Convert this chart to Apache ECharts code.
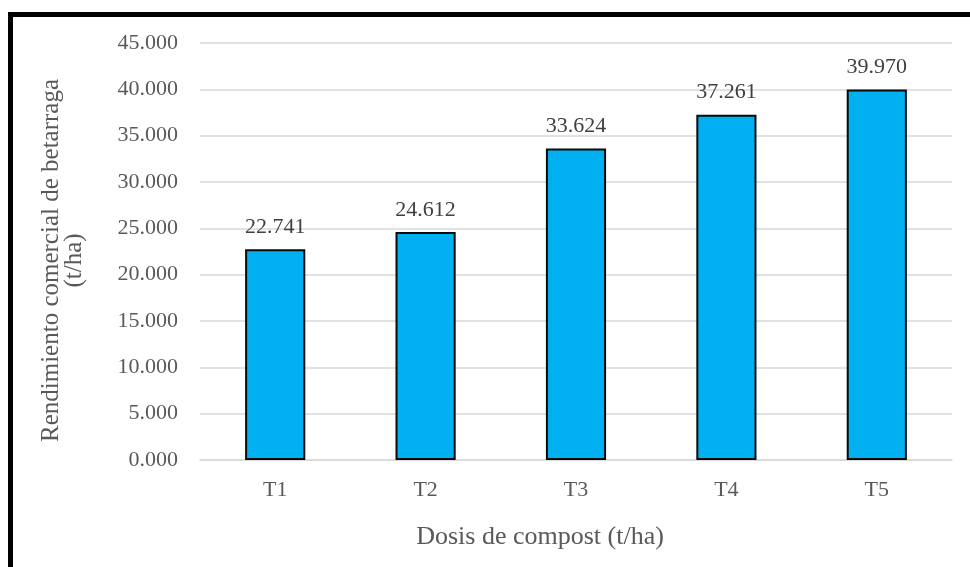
<!DOCTYPE html>
<html>
<head>
<meta charset="utf-8">
<script src="https://cdn.jsdelivr.net/npm/echarts@6/dist/echarts.min.js"></script>
<style>
  html, body { margin: 0; padding: 0; background: #fff; }
  #wrap { position: relative; width: 970px; height: 567px; overflow: hidden; background: #fff; }
  #frame { position: absolute; left: 8px; top: 12px; width: 980px; height: 600px;
           border-left: 5px solid #000; border-top: 5px solid #000; box-sizing: border-box; }
  #chart { position: absolute; left: 0; top: 0; width: 970px; height: 567px; }
</style>
</head>
<body>
<div id="wrap">
  <div id="frame"></div>
  <div id="chart"></div>
</div>
<script>
// Commercial beet yield by compost dose
const categories = ['T1', 'T2', 'T3', 'T4', 'T5'];
const yieldValues = [22.741, 24.612, 33.624, 37.261, 39.970];
const yAxisTitle = 'Rendimiento comercial de betarraga\n(t/ha)';
const xAxisTitle = 'Dosis de compost (t/ha)';

const serif = '"Liberation Serif", "Times New Roman", serif';
const fmt = v => v.toFixed(3);

const chart = echarts.init(document.getElementById('chart'), null, { renderer: 'canvas' });
chart.setOption({
  backgroundColor: 'transparent',
  animation: false,
  grid: { left: 200, right: 18, top: 43, bottom: 107 },
  xAxis: {
    type: 'category',
    data: categories,
    name: xAxisTitle,
    nameLocation: 'middle',
    nameGap: 64,
    nameTextStyle: { fontFamily: serif, fontSize: 26, color: '#595959', padding: [0, 72, 0, 0] },
    axisLine: { show: true, lineStyle: { color: '#d9d9d9', width: 1.5 } },
    axisTick: { show: false },
    axisLabel: { fontFamily: serif, fontSize: 22, color: '#595959', margin: 19 }
  },
  yAxis: {
    type: 'value',
    min: 0,
    max: 45,
    interval: 5,
    name: yAxisTitle,
    nameLocation: 'middle',
    nameGap: 114,
    nameTextStyle: { fontFamily: serif, fontSize: 25, color: '#595959', lineHeight: 23, padding: [0, 18, 0, 0] },
    axisLine: { show: false },
    axisTick: { show: false },
    axisLabel: { fontFamily: serif, fontSize: 22, color: '#595959', margin: 22, formatter: fmt },
    splitLine: { lineStyle: { color: '#d9d9d9', width: 1.5 } }
  },
  series: [{
    type: 'bar',
    data: yieldValues,
    barWidth: '40%',
    itemStyle: { color: '#00B0F0', borderColor: '#0a0a0a', borderWidth: 2 },
    label: {
      show: true,
      position: 'top',
      distance: 11,
      formatter: p => fmt(p.value),
      fontFamily: serif,
      fontSize: 22,
      color: '#404040'
    }
  }]
});
</script>
</body>
</html>
